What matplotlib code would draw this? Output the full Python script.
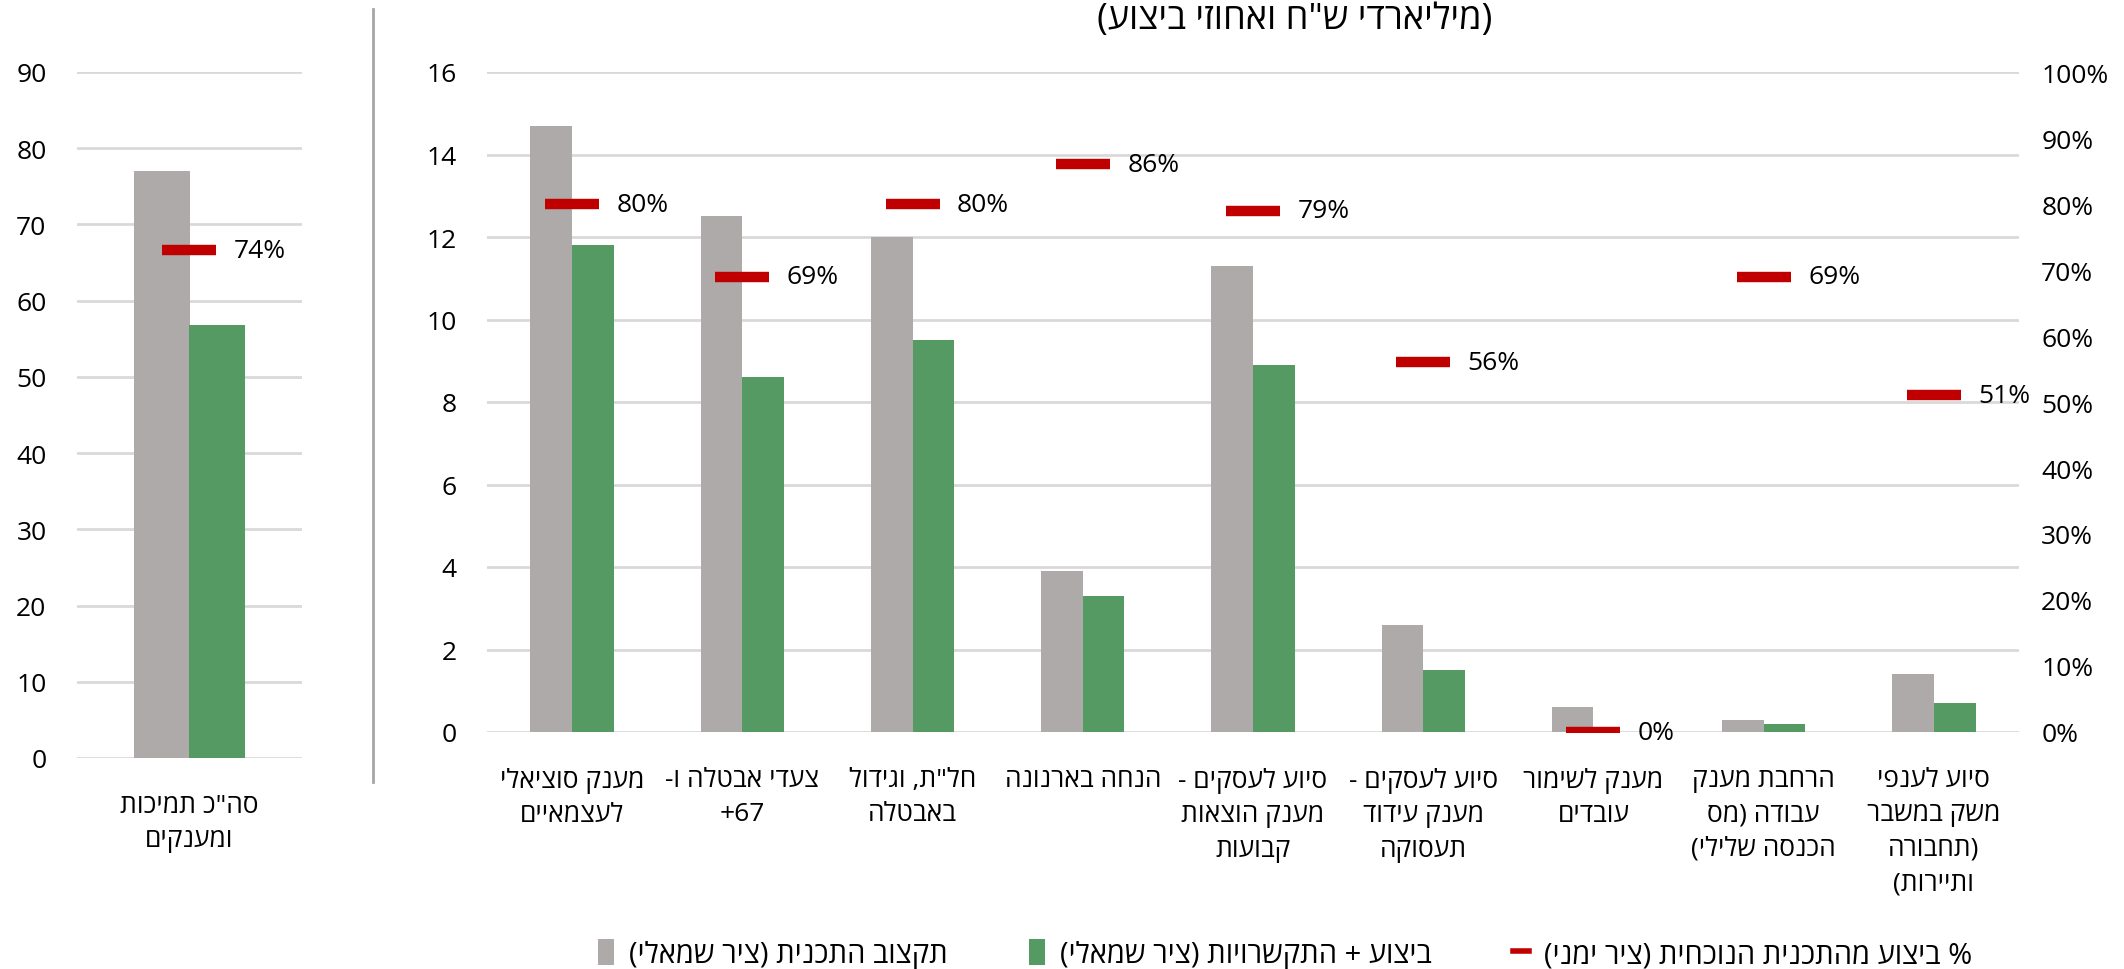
import re
import matplotlib
matplotlib.use("Agg")
import matplotlib.pyplot as plt
from matplotlib.patches import Patch
from matplotlib.lines import Line2D

plt.rcParams['font.family'] = ['Open Sans', 'DejaVu Sans']

# ---------------- data ----------------
title = '(מיליארדי ש"ח ואחוזי ביצוע)'
total_label = ['סה"כ תמיכות', 'ומענקים']
total_budget = [77.0]
total_exec = [56.8]
total_pct = [74]

categories = [
    ['מענק סוציאלי', 'לעצמאיים'],
    ['צעדי אבטלה ו-', '67+'],
    ['חל"ת, וגידול', 'באבטלה'],
    ['הנחה בארנונה'],
    ['סיוע לעסקים -', 'מענק הוצאות', 'קבועות'],
    ['סיוע לעסקים -', 'מענק עידוד', 'תעסוקה'],
    ['מענק לשימור', 'עובדים'],
    ['הרחבת מענק', 'עבודה (מס', 'הכנסה שלילי)'],
    ['סיוע לענפי', 'משק במשבר', '(תחבורה', 'ותיירות)'],
]
budget = [14.7, 12.5, 12.0, 3.9, 11.3, 2.6, 0.6, 0.3, 1.4]
execution = [11.8, 8.6, 9.5, 3.3, 8.9, 1.5, 0.0, 0.2, 0.7]
pct = [80, 69, 80, 86, 79, 56, 0, 69, 51]

legend_labels = ['תקצוב התכנית (ציר שמאלי)',
                 'ביצוע + התקשרויות (ציר שמאלי)',
                 '% ביצוע מהתכנית הנוכחית (ציר ימני)']

left_ticks = list(range(0, 91, 10))
main_ticks = list(range(0, 17, 2))
pct_ticks = list(range(0, 101, 10))

# ---------------- helpers ----------------
def rtl(s):
    r = s[::-1]
    r = r.translate(str.maketrans('()', ')('))
    r = re.sub(r'[0-9]+', lambda m: m.group(0)[::-1], r)
    return r

def rtl_lines(lines):
    return '\n'.join(rtl(l) for l in lines)

GRAY = '#AEAAAA'
GREEN = '#549A62'
RED = '#C00000'
GRID = '#D9D9D9'
FS = 19       # numbers
FH = 22       # hebrew labels

W, H = 2124, 970
fig = plt.figure(figsize=(W / 100, H / 100), dpi=100)

def box(x0, y0, x1, y1):
    return [x0 / W, 1 - y1 / H, (x1 - x0) / W, (y1 - y0) / H]

bw = 0.245

def style_axes(ax):
    for s in ax.spines.values():
        s.set_visible(False)
    ax.tick_params(axis='both', length=0, labelsize=FS, colors='black')
    ax.yaxis.grid(True, color=GRID, linewidth=2)
    ax.set_axisbelow(True)

# ---------------- left panel ----------------
axL = fig.add_axes(box(77, 73, 302, 759))
axL.bar([0 - bw / 2], total_budget, width=bw, color=GRAY, zorder=2)
axL.bar([0 + bw / 2], total_exec, width=bw, color=GREEN, zorder=2)
axL.set_xlim(-0.5, 0.5)
axL.set_ylim(0, 90)
axL.set_yticks(left_ticks)
axL.set_xticks([0])
axL.set_xticklabels([rtl_lines(total_label)], ha='center', fontsize=FH,
                    linespacing=1.5)
style_axes(axL)
axL.tick_params(axis='y', pad=22)
axL.tick_params(axis='x', pad=25)
axL2 = axL.twinx()
axL2.set_ylim(0, 100)
axL2.set_yticks([])
for s in axL2.spines.values():
    s.set_visible(False)
axL2.plot([0], total_pct, marker='_', markersize=39, markeredgewidth=7.5,
          color=RED, linestyle='none', zorder=3)
for x, p in zip([0], total_pct):
    axL2.annotate(f'{p}%', (x, p), xytext=(32, 0), textcoords='offset points',
                  va='center', ha='left', fontsize=FS, color='black')

# separator line
fig.add_artist(Line2D([373 / W, 373 / W], [1 - 10 / H, 1 - 783 / H],
                      color='#A6A6A6', linewidth=2))

# ---------------- main panel ----------------
ax = fig.add_axes(box(487, 73, 2019, 733))
x = list(range(len(categories)))
ax.bar([i - bw / 2 for i in x], budget, width=bw, color=GRAY, zorder=2)
ax.bar([i + bw / 2 for i in x], execution, width=bw, color=GREEN, zorder=2)
ax.set_xlim(-0.5, len(categories) - 0.5)
ax.set_ylim(0, 16)
ax.set_yticks(main_ticks)
ax.set_xticks(x)
ax.set_xticklabels([rtl_lines(c) for c in categories], ha='center',
                   va='top', linespacing=1.5, fontsize=FH)
style_axes(ax)
ax.tick_params(axis='y', pad=22)
ax.tick_params(axis='x', pad=25)

ax2 = ax.twinx()
ax2.set_ylim(0, 100)
ax2.set_yticks(pct_ticks)
ax2.set_yticklabels([f'{t}%' for t in pct_ticks])
for s in ax2.spines.values():
    s.set_visible(False)
ax2.tick_params(axis='y', length=0, labelsize=FS, colors='black', pad=16)
ax2.plot(x, pct, marker='_', markersize=39, markeredgewidth=7.5,
         color=RED, linestyle='none', zorder=3)
for xi, p in zip(x, pct):
    ax2.annotate(f'{p}%', (xi, p), xytext=(32, 0), textcoords='offset points',
                 va='center', ha='left', fontsize=FS, color='black')

# title
fig.text(1295 / W, 1 - 20 / H, rtl(title), ha='center', va='center',
         fontsize=26, color='black')

# legend
handles = [Patch(facecolor=GRAY, edgecolor='none'),
           Patch(facecolor=GREEN, edgecolor='none'),
           Line2D([0], [0], color=RED, linewidth=4)]
fig.legend(handles, [rtl(l) for l in legend_labels], loc='center',
           bbox_to_anchor=(1285 / W, 1 - 955 / H), ncol=3, frameon=False,
           fontsize=21, handlelength=0.55, handleheight=1.0,
           columnspacing=2.8, handletextpad=0.5)

fig.savefig('out.png', dpi=100)
